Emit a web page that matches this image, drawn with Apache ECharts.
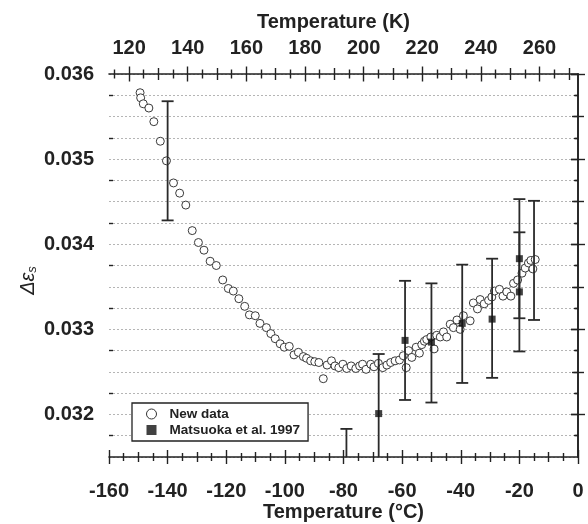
<!DOCTYPE html>
<html>
<head>
<meta charset="utf-8">
<script src="https://cdn.jsdelivr.net/npm/echarts@6/dist/echarts.min.js"></script>
<style>
html,body{margin:0;padding:0;background:#fff;}
#chart{width:588px;height:524px;}
</style>
</head>
<body>
<div id="chart"></div>
<script>
// ---------- data ----------
const newT = [-149.4,-149.2,-148.3,-146.4,-144.7,-142.5,-140.4,-138.0,-135.9,-133.8,
  -131.6,-129.5,-127.6,-125.5,-123.4,-121.2,-119.3,-117.6,-115.7,-113.7,
  -112.1,-110.1,-108.5,-106.3,-104.8,-103.3,-101.6,-100.2,-98.5,-96.9,
  -95.4,-93.7,-92.6,-91.2,-89.8,-88.4,-86.9,-85.6,-84.1,-82.9,
  -81.6,-80.2,-78.9,-77.4,-75.8,-74.5,-73.5,-72.3,-70.7,-69.6,
  -68.1,-66.6,-65.2,-63.9,-62.4,-60.9,-59.6,-58.6,-57.8,-56.7,
  -55.2,-54.1,-53.3,-52.4,-51.6,-50.2,-49.1,-48.2,-47.0,-45.9,
  -44.8,-43.6,-42.5,-41.3,-40.2,-39.1,-36.8,-35.7,-34.3,-33.4,
  -32.0,-30.5,-29.4,-28.5,-26.8,-25.6,-24.3,-22.9,-22.0,-20.6,
  -19.1,-18.0,-16.9,-16.1,-15.4,-14.6];
const newEps = [0.03578,0.03572,0.03565,0.03560,0.03544,0.03521,0.03498,0.03472,0.03460,0.03446,
  0.03416,0.03402,0.03393,0.03380,0.03375,0.03358,0.03348,0.03345,0.03336,0.03327,
  0.03317,0.03316,0.03307,0.03302,0.03295,0.03289,0.03283,0.03279,0.03280,0.03270,
  0.03273,0.03268,0.03266,0.03263,0.03262,0.03261,0.03242,0.03258,0.03263,0.03257,
  0.03255,0.03259,0.03254,0.03257,0.03254,0.03257,0.03259,0.03253,0.03259,0.03256,
  0.03260,0.03255,0.03258,0.03261,0.03263,0.03264,0.03269,0.03255,0.03275,0.03267,
  0.03279,0.03272,0.03282,0.03286,0.03288,0.03291,0.03277,0.03293,0.03291,0.03297,
  0.03291,0.03306,0.03302,0.03311,0.03300,0.03316,0.03310,0.03331,0.03324,0.03335,
  0.03330,0.03334,0.03338,0.03345,0.03347,0.03339,0.03344,0.03339,0.03354,0.03358,
  0.03366,0.03372,0.03378,0.03381,0.03371,0.03382];

const matsT   = [-79, -68, -59, -50, -39.5, -29.3, -20, -20];
const matsEps = [0.03113, 0.03201, 0.03287, 0.03285, 0.03307, 0.03312, 0.03383, 0.03344];

const barT    = [-140, -79, -68, -59, -50, -39.5, -29.3, -20, -20, -15];
const barLow  = [0.03428, 0.03043, 0.03131, 0.03217, 0.03214, 0.03237, 0.03243, 0.03313, 0.03274, 0.03311];
const barHigh = [0.03568, 0.03183, 0.03271, 0.03357, 0.03354, 0.03376, 0.03383, 0.03453, 0.03414, 0.03451];

const celsiusTicks = [-160, -140, -120, -100, -80, -60, -40, -20, 0];
const kelvinTicks  = [120, 140, 160, 180, 200, 220, 240, 260];
const epsTicks     = [0.032, 0.033, 0.034, 0.035, 0.036];

// ---------- helpers ----------
const INK = '#222';
const FONT = 'Liberation Sans, Arial, sans-serif';
function range(a, b, step) { const r = []; for (let v = a; v <= b + step * 1e-6; v += step) r.push(Math.round(v * 1e6) / 1e6); return r; }

const cMed = range(-150, -10, 20), cMin = range(-155, -5, 10);
const kMed = range(130, 270, 20),  kMin = range(115, 265, 10);
const eMed = range(0.0325, 0.0355, 0.001), eMin = range(0.03175, 0.03575, 0.0005);

function tickAxis(base, values, length, inside) {
  return Object.assign({}, base, {
    axisLine: { show: false }, splitLine: { show: false }, axisLabel: { show: false },
    axisTick: { show: true, inside: inside, length: length, customValues: values,
      lineStyle: { color: INK, width: 1.4 } }
  });
}
function crossing(base, sets) {
  const out = [];
  sets.forEach(s => {
    out.push(tickAxis(base, s[0], s[1], false));
    out.push(tickAxis(base, s[0], s[1], true));
  });
  return out;
}

const bottomBase = { type: 'value', position: 'bottom', min: -160, max: 0 };
const topBase    = { type: 'value', position: 'top', min: 113.15, max: 273.15 };
const leftBase   = { type: 'value', position: 'left', min: 0.0315, max: 0.036 };
const rightBase  = { type: 'value', position: 'right', min: 0.0315, max: 0.036 };

const labelStyle = { fontSize: 20, fontWeight: 'bold', color: INK, fontFamily: FONT };

const xAxes = [
  Object.assign({}, bottomBase, {
    axisLine: { show: true, lineStyle: { color: INK, width: 1.6 } },
    axisTick: { show: false }, splitLine: { show: false },
    axisLabel: Object.assign({ customValues: celsiusTicks, margin: 24, formatter: v => String(v) }, labelStyle),
    name: 'Temperature (°C)', nameLocation: 'middle', nameGap: 45, nameMoveOverlap: false,
    nameTextStyle: labelStyle
  }),
  Object.assign({}, topBase, {
    axisLine: { show: true, lineStyle: { color: INK, width: 1.6 } },
    axisTick: { show: false }, splitLine: { show: false },
    axisLabel: Object.assign({ customValues: kelvinTicks, margin: 16, formatter: v => String(v) }, labelStyle),
    name: 'Temperature (K)', nameLocation: 'middle', nameGap: 42, nameMoveOverlap: false,
    nameTextStyle: Object.assign({ padding: [0, 20, 0, 0] }, labelStyle)
  })
].concat(
  crossing(bottomBase, [[celsiusTicks, 7], [cMed, 5], [cMin, 4]]),
  crossing(topBase, [[kelvinTicks, 7.5], [kMed, 6], [kMin, 4.5]])
);

const yAxes = [
  Object.assign({}, leftBase, {
    interval: 0.00025,
    axisLine: { show: true, lineStyle: { color: INK, width: 1.6 } },
    axisTick: { show: false },
    splitLine: { show: true, lineStyle: { color: '#b5b5b5', type: [2, 2], width: 1 } },
    axisLabel: Object.assign({ customValues: epsTicks, margin: 15, formatter: v => v.toFixed(3) }, labelStyle),
    name: '{a|Δε}{s|s}', nameLocation: 'middle', nameGap: 70, nameRotate: 90, nameMoveOverlap: false,
    nameTextStyle: { padding: [0, 30, 0, 0], rich: {
      a: { fontSize: 20, fontStyle: 'italic', color: INK, fontFamily: FONT },
      s: { fontSize: 13, fontStyle: 'italic', color: INK, fontFamily: FONT, padding: [9, 0, 0, 0] }
    } }
  }),
  Object.assign({}, rightBase, {
    axisLine: { show: true, lineStyle: { color: INK, width: 1.6 } },
    axisTick: { show: false }, splitLine: { show: false }, axisLabel: { show: false }
  })
].concat(
  crossing(leftBase, [[epsTicks, 7], [eMed, 6], [eMin, 4]]),
  [tickAxis(rightBase, epsTicks, 7, true), tickAxis(rightBase, eMed, 4.5, true), tickAxis(rightBase, eMin, 3, true)]
);

const chart = echarts.init(document.getElementById('chart'), null, { renderer: 'canvas' });
chart.setOption({
  backgroundColor: '#fff',
  animation: false,
  grid: { left: 109, right: 10, top: 74, bottom: 67, containLabel: false, outerBoundsMode: 'none' },
  xAxis: xAxes,
  yAxis: yAxes,
  legend: {
    left: 132, top: 403, orient: 'vertical',
    padding: [4, 8, 4, 14], itemGap: 2, itemWidth: 10, itemHeight: 10,
    backgroundColor: '#fff', borderColor: INK, borderWidth: 1.3,
    textStyle: { fontSize: 13.5, fontWeight: 'bold', color: INK, fontFamily: FONT, padding: [0, 0, 0, 8] },
    selectedMode: false,
    data: [
      { name: 'New data', icon: 'circle', itemStyle: { color: '#fff', borderColor: '#333', borderWidth: 1 } },
      { name: 'Matsuoka et al. 1997', icon: 'rect', itemStyle: { color: '#111' } }
    ]
  },
  series: [
    {
      name: 'New data', type: 'scatter', xAxisIndex: 0, yAxisIndex: 0,
      symbol: 'circle', symbolSize: 8, z: 2,
      itemStyle: { color: '#fff', borderColor: '#3a3a3a', borderWidth: 1, opacity: 1 },
      data: newT.map((t, i) => [t, newEps[i]])
    },
    {
      name: 'errorbars', type: 'custom', xAxisIndex: 0, yAxisIndex: 0, z: 3, clip: true,
      encode: { x: 0, y: [1, 2] },
      data: barT.map((t, i) => [t, barLow[i], barHigh[i]]),
      renderItem: function (params, api) {
        const x = api.value(0);
        const lo = api.coord([x, api.value(1)]);
        const hi = api.coord([x, api.value(2)]);
        const hw = 6;
        const st = { stroke: '#2a2a2a', lineWidth: 1.8 };
        return { type: 'group', children: [
          { type: 'line', shape: { x1: hi[0], y1: hi[1], x2: lo[0], y2: lo[1] }, style: st },
          { type: 'line', shape: { x1: hi[0] - hw, y1: hi[1], x2: hi[0] + hw, y2: hi[1] }, style: st },
          { type: 'line', shape: { x1: lo[0] - hw, y1: lo[1], x2: lo[0] + hw, y2: lo[1] }, style: st }
        ] };
      }
    },
    {
      name: 'Matsuoka et al. 1997', type: 'scatter', xAxisIndex: 0, yAxisIndex: 0,
      symbol: 'rect', symbolSize: 7, z: 4, clip: true,
      itemStyle: { color: '#111' },
      data: matsT.map((t, i) => [t, matsEps[i]])
    }
  ]
});
</script>
</body>
</html>
